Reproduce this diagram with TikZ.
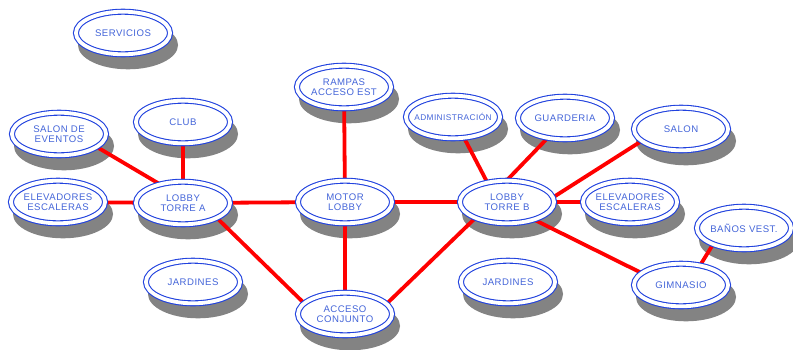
\documentclass[tikz,border=0pt]{standalone}
\usepackage{fontspec}
\newfontfamily\roomfont[LetterSpace=5]{Liberation Sans}
\usepackage{xcolor}
\usepackage{tikz}
\usetikzlibrary{shapes.geometric}
\definecolor{rim}{HTML}{2142DE}
\definecolor{ink}{HTML}{4465D9}
\definecolor{wire}{HTML}{FF0000}
\definecolor{shade}{HTML}{838383}
\pgfdeclarelayer{shadows}
\pgfdeclarelayer{wires}
\pgfsetlayers{shadows,wires,main}

\begin{document}
\begin{tikzpicture}[x=1pt, y=-1pt,
  oval/.style={ellipse, minimum width=94.1pt, minimum height=42.6pt, inner sep=-8pt},
  room/.style={oval, draw=rim, line width=1.1pt, double=white, double distance=3.8pt, fill=white,
    align=center, text=ink, font=\roomfont\fontsize{9.6}{10}\selectfont},
  drop/.style={oval, fill=shade, minimum width=100.1pt, minimum height=48.6pt},
  link/.style={draw=wire, line width=3.8pt}]
  \useasboundingbox (0,0) rectangle (793,349);

  \node[room] (servicios) at (123,33) {SERVICIOS};
  \node[room] (salonev) at (59,134) {SALON DE\\EVENTOS};
  \node[room] (club) at (183,122) {CLUB};
  \node[room] (elevl) at (58,202) {ELEVADORES\\ESCALERAS};
  \node[room] (lobbya) at (183,203) {LOBBY\\TORRE A};
  \node[room] (jardinl) at (193,282) {JARDINES};
  \node[room] (rampas) at (344,87) {RAMPAS\\ACCESO EST};
  \node[room] (motor) at (345,202) {MOTOR\\LOBBY};
  \node[room] (acceso) at (345,314) {ACCESO\\CONJUNTO};
  \node[room, font=\roomfont\fontsize{8.3}{10}\selectfont] (admin) at (453,117) {ADMINISTRACIÓN};
  \node[room] (guard) at (565,118) {GUARDERIA};
  \node[room] (lobbyb) at (507,202) {LOBBY\\TORRE B};
  \node[room] (salon) at (681,129) {SALON};
  \node[room] (elevr) at (630,202) {ELEVADORES\\ESCALERAS};
  \node[room] (jardinr) at (508,282) {JARDINES};
  \node[room] (banos) at (744,228) {BAÑOS VEST.};
  \node[room] (gim) at (681,285) {GIMNASIO};

  \begin{pgfonlayer}{shadows}
    \foreach \n in {servicios,salonev,club,elevl,lobbya,jardinl,rampas,motor,acceso,admin,guard,lobbyb,salon,elevr,jardinr,banos,gim}
      \node[drop] at ([shift={(5,12)}]\n.center) {};
  \end{pgfonlayer}

  \begin{pgfonlayer}{wires}
    \draw[link] (salonev.-19) -- (lobbya.141);
    \draw[link] (club) -- (lobbya);
    \draw[link] (elevl) -- (lobbya);
    \draw[link] (lobbya) -- (motor);
    \draw[link] (lobbya.-24) -- (acceso.165);
    \draw[link] (rampas) -- (motor);
    \draw[link] (motor) -- (acceso);
    \draw[link] (motor) -- (lobbyb);
    \draw[link] (acceso.14) -- (lobbyb.207);
    \draw[link] (admin.-62) -- (lobbyb.135);
    \draw[link] (guard.229) -- (lobbyb.90);
    \draw[link] (salon.197) -- (lobbyb.6);
    \draw[link] (lobbyb) -- (elevr);
    \draw[link] (lobbyb.-33) -- (gim.163);
    \draw[link] (gim.46) -- (banos.208);
  \end{pgfonlayer}
\end{tikzpicture}
\end{document}
